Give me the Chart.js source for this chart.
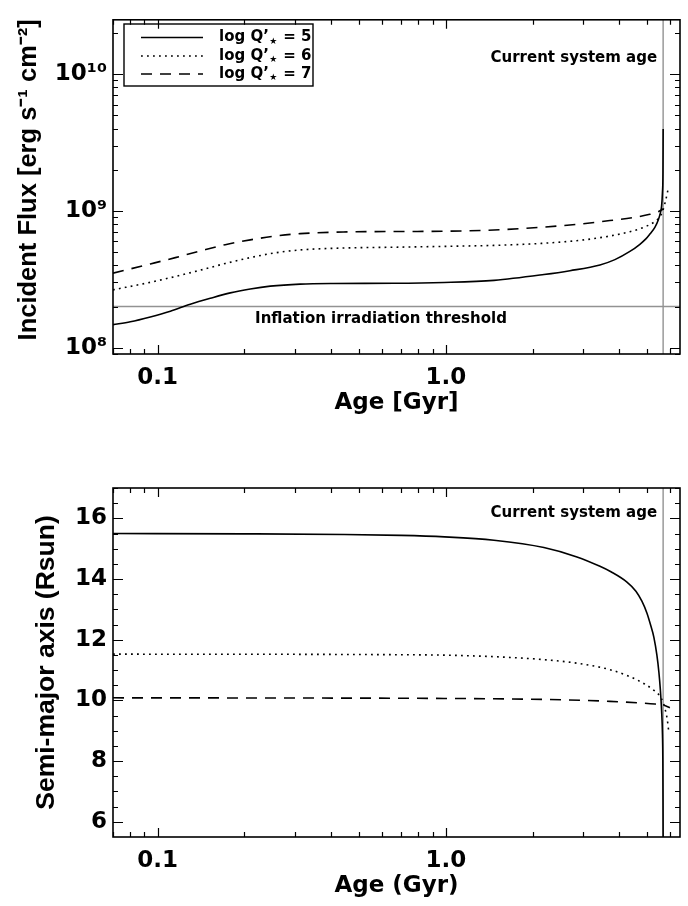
<!DOCTYPE html>
<html><head><meta charset="utf-8">
<script src="https://cdn.jsdelivr.net/npm/chart.js@4"></script>
<style>
html,body{margin:0;padding:0;background:#fff;}
#wrap{position:relative;width:688px;height:906px;overflow:hidden;}
canvas{position:absolute;left:0;}
</style></head><body>
<div id="wrap">
<canvas id="c1" width="688" height="453" style="top:0px"></canvas>
<canvas id="c2" width="688" height="453" style="top:453px"></canvas>
</div>
<script>
// ---------- data ----------
// Top panel: incident flux [erg s^-1 cm^-2] vs age [Gyr]
const fluxAgeQ5 = [0.07, 0.0804, 0.0943, 0.1107, 0.1298, 0.1523, 0.1787, 0.2097, 0.2459, 0.3124, 0.4067, 0.662, 0.9865, 1.471, 2.192, 2.698, 3.428, 3.864, 4.355, 4.717, 4.948, 5.109, 5.317, 5.468, 5.557, 5.610, 5.651, 5.673, 5.682];
const fluxQ5    = [1.476e8, 1.549e8, 1.68e8, 1.85e8, 2.08e8, 2.30e8, 2.52e8, 2.69e8, 2.82e8, 2.92e8, 2.95e8, 2.96e8, 3.0e8, 3.11e8, 3.43e8, 3.66e8, 4.03e8, 4.41e8, 5.06e8, 5.71e8, 6.25e8, 6.78e8, 7.59e8, 8.64e8, 9.68e8, 1.08e9, 1.38e9, 1.91e9, 3.97e9];
const fluxAgeQ6 = [0.07, 0.0943, 0.1152, 0.1406, 0.1717, 0.2097, 0.2559, 0.3124, 0.4405, 0.6942, 0.9865, 1.543, 2.192, 2.923, 3.712, 4.355, 4.910, 5.317, 5.535, 5.682, 5.806, 5.876, 5.922];
const fluxQ6    = [2.65e8, 3.01e8, 3.32e8, 3.69e8, 4.13e8, 4.56e8, 4.94e8, 5.19e8, 5.36e8, 5.44e8, 5.51e8, 5.62e8, 5.81e8, 6.10e8, 6.56e8, 7.06e8, 7.65e8, 8.37e8, 9.07e8, 1.025e9, 1.215e9, 1.36e9, 1.476e9];
const fluxAgeQ7 = [0.07, 0.0943, 0.1152, 0.1406, 0.1717, 0.2097, 0.2559, 0.3124, 0.4405, 0.6942, 0.9865, 1.543, 2.192, 2.923, 3.712, 4.533, 5.109, 5.447, 5.682];
const fluxQ7    = [3.51e8, 4.10e8, 4.56e8, 5.10e8, 5.67e8, 6.15e8, 6.56e8, 6.83e8, 7.02e8, 7.08e8, 7.11e8, 7.29e8, 7.63e8, 8.03e8, 8.51e8, 9.00e8, 9.45e8, 9.84e8, 1.033e9];

// Bottom panel: semi-major axis [Rsun] vs age [Gyr]
const axisAgeQ5 = [0.07, 0.2, 0.445, 0.7, 0.99, 1.47, 2.19, 2.853, 3.428, 3.743, 4.254, 4.570, 4.794, 4.989, 5.151, 5.276, 5.404, 5.491, 5.557, 5.610, 5.651, 5.667, 5.675, 5.682];
const axisQ5    = [15.50, 15.49, 15.47, 15.44, 15.39, 15.28, 15.04, 14.73, 14.42, 14.24, 13.90, 13.60, 13.27, 12.88, 12.45, 12.08, 11.49, 10.93, 10.34, 9.68, 8.86, 8.03, 6.71, 5.0];
const axisAgeQ6 = [0.07, 0.3124, 0.6942, 0.9865, 1.543, 2.192, 2.923, 3.712, 4.355, 4.910, 5.317, 5.535, 5.682, 5.782, 5.876, 5.948];
const axisQ6    = [11.525, 11.519, 11.506, 11.493, 11.433, 11.344, 11.213, 11.015, 10.784, 10.537, 10.306, 10.142, 9.928, 9.680, 9.351, 8.923];
const axisAgeQ7 = [0.07, 0.3124, 0.9865, 2.192, 3.712, 4.717, 5.317, 5.682, 5.995];
const axisQ7    = [10.086, 10.079, 10.066, 10.033, 9.970, 9.918, 9.881, 9.845, 9.763];

const systemAge = 5.68;
const inflationThreshold = 2e8;
const legendLabels = ['log Q\u2019', 'log Q\u2019', 'log Q\u2019'];
const legendValues = ['5', '6', '7'];

// axes
const ageMin = 0.07, ageMax = 6.5;
const fluxMin = 9e7, fluxMax = 2.5e10;
const axisMin = 5.5, axisMax = 17;
const ageTickValues = [0.1, 1.0];
const ageTickLabels = ['0.1', '1.0'];
const fluxTickValues = [1e8, 1e9, 1e10];
const fluxTickLabels = ['10\u2078', '10\u2079', '10\u00B9\u2070'];
const axisTickValues = [6, 8, 10, 12, 14, 16];
const axisTickLabels = ['6', '8', '10', '12', '14', '16'];

// ---------- styling ----------
const FONT_H = "'DejaVu Sans', sans-serif";
const FONT_V = "'Liberation Sans', Arial, sans-serif";
const DOTTED = [1.8, 4.2];
const DASHED = [11, 8];
const GREY = '#929292';

function pts(xs, ys) { return xs.map((x, i) => ({x: x, y: ys[i]})); }
function curve(label, xs, ys, dash) {
  return {label, data: pts(xs, ys), borderColor: '#000', borderWidth: 1.6, borderDash: dash,
          pointRadius: 0, fill: false, cubicInterpolationMode: 'monotone'};
}
function guide(data) {
  return {label: 'guide', data, borderColor: GREY, borderWidth: 1.4, pointRadius: 0, fill: false, tension: 0};
}

// minor tick positions for inward tick marks
const ageMinor = [];
[0.01, 0.1, 1].forEach(d => { for (let k = 2; k <= 9; k++) { const v = k * d; if (v >= ageMin && v <= ageMax) ageMinor.push(v); } });
const fluxMinor = [];
[1e7, 1e8, 1e9, 1e10].forEach(d => { for (let k = 2; k <= 9; k++) { const v = k * d; if (v >= fluxMin && v <= fluxMax) fluxMinor.push(v); } });
const axisMinor = [];
for (let v = 6; v <= 17; v += 0.5) { if (v % 2 !== 0) axisMinor.push(v); }

function ticksPlugin(xMajor, xMinor, yMajor, yMinor) {
  return {
    id: 'frameTicks',
    afterDatasetsDraw(chart) {
      const {ctx, chartArea: a, scales: {x, y}} = chart;
      ctx.save();
      ctx.strokeStyle = '#000';
      ctx.lineWidth = 1.2;
      ctx.beginPath();
      const xt = xMajor.map(v => [v, 9]).concat(xMinor.map(v => [v, 5]));
      xt.forEach(([v, len]) => {
        const p = Math.round(x.getPixelForValue(v)) + 0.5;
        ctx.moveTo(p, a.bottom); ctx.lineTo(p, a.bottom - len);
        ctx.moveTo(p, a.top); ctx.lineTo(p, a.top + len);
      });
      const yt = yMajor.map(v => [v, 10]).concat(yMinor.map(v => [v, 5]));
      yt.forEach(([v, len]) => {
        const p = Math.round(y.getPixelForValue(v)) + 0.5;
        ctx.moveTo(a.left, p); ctx.lineTo(a.left + len, p);
        ctx.moveTo(a.right, p); ctx.lineTo(a.right - len, p);
      });
      ctx.stroke();
      ctx.lineWidth = 1.6;
      ctx.strokeRect(a.left, a.top, a.right - a.left, a.bottom - a.top);
      ctx.restore();
    }
  };
}

function xAxis(title, height, titlePad) {
  return {
    type: 'logarithmic', min: ageMin, max: ageMax, bounds: 'data',
    afterBuildTicks: s => { s.ticks = ageTickValues.map(v => ({value: v})); },
    afterFit: s => { s.height = height; },
    ticks: {callback: (v, i) => ageTickLabels[i], font: {family: FONT_H, size: 23, weight: 'bold'},
            color: '#000', padding: 10, maxRotation: 0, autoSkip: false},
    grid: {display: false, drawTicks: false}, border: {display: false},
    title: {display: true, text: title, color: '#000', font: {family: FONT_H, size: 23, weight: 'bold'},
            padding: {top: 0, bottom: titlePad}}
  };
}

// ---------- top chart ----------
const topAnno = {
  id: 'topAnno',
  afterDraw(chart) {
    const {ctx, scales: {x, y}} = chart;
    ctx.save();
    ctx.fillStyle = '#000';
    ctx.font = "bold 15px " + FONT_H;
    ctx.textBaseline = 'middle';
    ctx.textAlign = 'right';
    ctx.fillText('Current system age', x.getPixelForValue(systemAge) - 6, 58);
    ctx.textAlign = 'center';
    ctx.fillText('Inflation irradiation threshold', 381, y.getPixelForValue(inflationThreshold) + 13);
    // legend
    const L = 124, T = 24, R = 313, B = 86;
    ctx.lineWidth = 1.4; ctx.strokeStyle = '#000';
    ctx.strokeRect(L, T, R - L, B - T);
    const rows = [37.5, 56, 74];
    const dashes = [[], DOTTED, DASHED];
    rows.forEach((ry, i) => {
      ctx.beginPath();
      ctx.setLineDash(dashes[i]);
      ctx.lineWidth = 1.6;
      ctx.moveTo(141, ry); ctx.lineTo(203, ry);
      ctx.stroke();
      ctx.setLineDash([]);
      ctx.textAlign = 'left';
      ctx.font = "bold 15px " + FONT_H;
      let tx = 219;
      ctx.fillText(legendLabels[i], tx, ry);
      tx += ctx.measureText(legendLabels[i]).width;
      ctx.font = "bold 9px " + FONT_H;
      ctx.fillText('\u2605', tx + 0.5, ry + 4);
      tx += ctx.measureText('\u2605').width + 1;
      ctx.font = "bold 15px " + FONT_H;
      ctx.fillText(' = ' + legendValues[i], tx, ry);
    });
    ctx.restore();
  }
};

new Chart(document.getElementById('c1'), {
  type: 'line',
  data: {datasets: [
    curve('log Q*=5', fluxAgeQ5, fluxQ5, []),
    curve('log Q*=6', fluxAgeQ6, fluxQ6, DOTTED),
    curve('log Q*=7', fluxAgeQ7, fluxQ7, DASHED),
    guide([{x: systemAge, y: fluxMin}, {x: systemAge, y: fluxMax}]),
    guide([{x: ageMin, y: inflationThreshold}, {x: ageMax, y: inflationThreshold}])
  ]},
  options: {
    responsive: false, animation: false, devicePixelRatio: 1,
    layout: {padding: {top: 6, right: 8, left: 0, bottom: 0}},
    plugins: {legend: {display: false}, tooltip: {enabled: false}},
    scales: {
      x: xAxis('Age [Gyr]', 99, 36),
      y: {
        type: 'logarithmic', min: fluxMin, max: fluxMax, bounds: 'data',
        afterBuildTicks: s => { s.ticks = fluxTickValues.map(v => ({value: v})); },
        afterFit: s => { s.width = 113; },
        ticks: {callback: (v, i) => fluxTickLabels[i], font: {family: FONT_H, size: 23, weight: 'bold'},
                color: '#000', padding: 6, autoSkip: false},
        grid: {display: false, drawTicks: false}, border: {display: false},
        title: {display: true, text: '  Incident Flux [erg s\u207B\u00B9 cm\u207B\u00B2]', color: '#000',
                font: {family: FONT_V, size: 25.5, weight: 'bold'}, padding: {top: 14, bottom: 0}}
      }
    }
  },
  plugins: [ticksPlugin(ageTickValues, ageMinor, fluxTickValues, fluxMinor), topAnno]
});

// ---------- bottom chart ----------
const botAnno = {
  id: 'botAnno',
  afterDraw(chart) {
    const {ctx, scales: {x}} = chart;
    ctx.save();
    ctx.fillStyle = '#000';
    ctx.font = "bold 15px " + FONT_H;
    ctx.textBaseline = 'middle';
    ctx.textAlign = 'right';
    ctx.fillText('Current system age', x.getPixelForValue(systemAge) - 6, 60);
    ctx.restore();
  }
};

new Chart(document.getElementById('c2'), {
  type: 'line',
  data: {datasets: [
    curve('log Q*=5', axisAgeQ5, axisQ5, []),
    curve('log Q*=6', axisAgeQ6, axisQ6, DOTTED),
    curve('log Q*=7', axisAgeQ7, axisQ7, DASHED),
    guide([{x: systemAge, y: axisMin}, {x: systemAge, y: axisMax}])
  ]},
  options: {
    responsive: false, animation: false, devicePixelRatio: 1,
    layout: {padding: {top: 35, right: 8, left: 0, bottom: 0}},
    plugins: {legend: {display: false}, tooltip: {enabled: false}},
    scales: {
      x: xAxis('Age (Gyr)', 69, 6),
      y: {
        type: 'linear', min: axisMin, max: axisMax, bounds: 'data',
        afterBuildTicks: s => { s.ticks = axisTickValues.map(v => ({value: v})); },
        afterFit: s => { s.width = 113; },
        ticks: {callback: (v, i) => axisTickLabels[i], font: {family: FONT_H, size: 23, weight: 'bold'},
                color: '#000', padding: 6, autoSkip: false},
        grid: {display: false, drawTicks: false}, border: {display: false},
        title: {display: true, text: 'Semi-major axis (Rsun)', color: '#000',
                font: {family: FONT_V, size: 26.5, weight: 'bold'}, padding: {top: 31, bottom: 0}}
      }
    }
  },
  plugins: [ticksPlugin(ageTickValues, ageMinor, axisTickValues, axisMinor), botAnno]
});
</script>
</body></html>
